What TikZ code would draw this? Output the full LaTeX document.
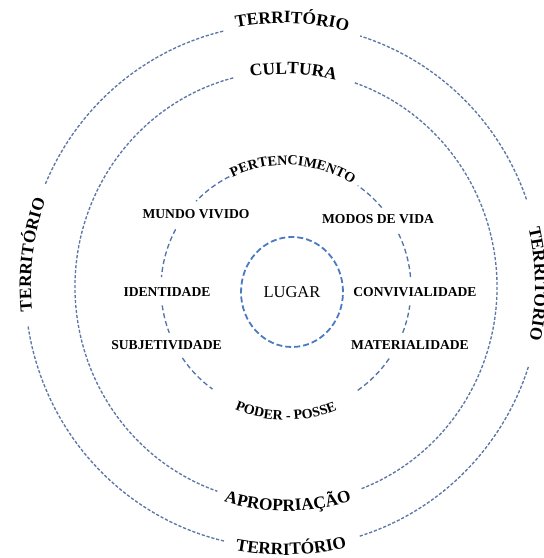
\documentclass[tikz,border=0pt]{standalone}
\usepackage{fontspec}
\setmainfont{Liberation Serif}
\usetikzlibrary{decorations.text}
\definecolor{ringc}{HTML}{5E77A6}
\definecolor{midc}{HTML}{5474AA}
\definecolor{lugc}{HTML}{4A7AC2}
\newcommand\fBig{\fontsize{17.3}{17}\selectfont\bfseries}
\newcommand\fMid{\fontsize{14}{14}\selectfont\bfseries}
\begin{document}
\begin{tikzpicture}[x=1pt,y=1pt,
  ring/.style={draw=ringc, line width=1.35pt, dash pattern=on 3.2pt off 1.8pt},
  midring/.style={draw=midc, line width=1.35pt, dash pattern=on 5pt off 3pt},
  lugring/.style={draw=lugc, line width=1.8pt, dash pattern=on 6pt off 3pt},
  lbl/.style={font=\fontsize{13.6}{14}\selectfont\bfseries, inner sep=0pt},
  curved/.style={decorate, decoration={text along path, text align=center, text={#1}}}
  ]
\useasboundingbox (0,0) rectangle (544,558);
\coordinate (O1) at (283,272);
\coordinate (O2) at (286,271);
\coordinate (O3) at (286,270);

% outer ring (TERRITORIO)
\draw[ring] ([shift={(103.4:258 and 262)}]O1) arc[start angle=103.4, end angle=157.2, x radius=258, y radius=262];
\draw[ring] ([shift={(19.3:258 and 262)}]O1) arc[start angle=19.3, end angle=72.6, x radius=258, y radius=262];
\draw[ring] ([shift={(188.9:258 and 262)}]O1) arc[start angle=188.9, end angle=256.8, x radius=258, y radius=262];
\draw[ring] ([shift={(-72.7:258 and 262)}]O1) arc[start angle=-72.7, end angle=-17.7, x radius=258, y radius=262];

% culture ring
\draw[ring] ([shift={(104.5:211 and 216)}]O2) arc[start angle=104.5, end angle=251, x radius=211, y radius=216];
\draw[ring] ([shift={(-69:211 and 216)}]O2) arc[start angle=-69, end angle=71.2, x radius=211, y radius=216];

% middle ring
\foreach \a/\b in {117/136, 152/175, 188/201, 214/234, 305/326, 339/352, 5/26, 40/55}{
  \draw[midring] ([shift={(\a:125)}]O3) arc[start angle=\a, end angle=\b, radius=125];
}

% LUGAR
\node[font=\fontsize{16.5}{17}\selectfont, inner sep=0pt] (lug) at (292,266) {LUGAR};
\draw[lugring] (lug.center) ellipse[x radius=51, y radius=55];

% straight labels
\node[lbl] (mv) at (196,344) {MUNDO VIVIDO};
\node[lbl] (md) at (378,339) {MODOS DE VIDA};
\node[lbl] (id) at (167,265.5) {IDENTIDADE};
\node[lbl] (cv) at (415,265.5) {CONVIVIALIDADE};
\node[lbl] (sb) at (166.5,213) {SUBJETIVIDADE};
\node[lbl] (mt) at (410,213) {MATERIALIDADE};

% curved labels
\path[curved={|\fBig|TERRITÓRIO}] ([shift={(118:259 and 263)}]O1) arc[start angle=118, end angle=58, x radius=259, y radius=263];
\path[curved={|\fBig|TERRITÓRIO}] ([shift={(203:252 and 256)}]O1) arc[start angle=203, end angle=143, x radius=252, y radius=256];
\path[curved={|\fBig|TERRITÓRIO}] ([shift={(30:252 and 256)}]O1) arc[start angle=30, end angle=-29, x radius=252, y radius=256];
\path[curved={|\fBig|TERRITÓRIO}] ([shift={(241.8:265 and 269)}]O1) arc[start angle=241.8, end angle=301.8, x radius=265, y radius=269];
\path[curved={|\fBig|CULTURA}] ([shift={(118:208 and 213)}]O2) arc[start angle=118, end angle=58, x radius=208, y radius=213];
\path[curved={|\fBig|APROPRIAÇÃO}] ([shift={(240.5:219 and 224)}]O2) arc[start angle=240.5, end angle=300.5, x radius=219, y radius=224];
\path[curved={|\fMid|PERTENCIMENTO}] ([shift={(136.6:123)}]O3) arc[start angle=136.6, end angle=36.6, radius=123];
\path[curved={|\fMid|PODER - POSSE}] ([shift={(225:132)}]O3) arc[start angle=225, end angle=315, radius=132];
\end{tikzpicture}
\end{document}
